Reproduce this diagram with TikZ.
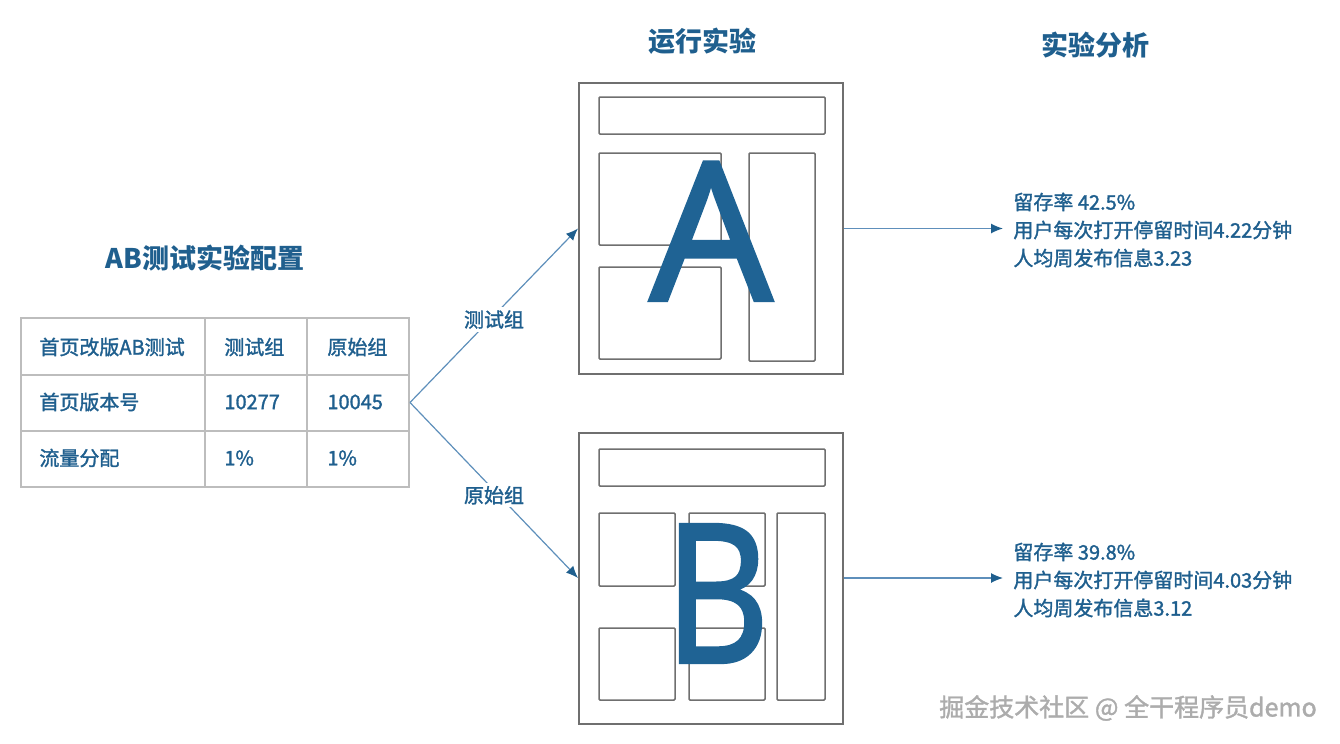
\documentclass[tikz,border=0pt]{standalone}
\usepackage{fontspec}
\setmainfont{Noto Sans CJK SC}[UprightFeatures={FakeBold=1.5}]
\newfontfamily\letterfont{Open Sans}[FakeBold=2.2]
\usetikzlibrary{arrows.meta}
\definecolor{textblue}{HTML}{1F5F8E}
\definecolor{letterblue}{HTML}{1F6394}
\definecolor{lineblue}{HTML}{5E8FBB}
\definecolor{framegray}{HTML}{6F6F6F}
\definecolor{gridgray}{HTML}{BDBDBD}

\begin{document}
\begin{tikzpicture}[x=0.5pt, y=-0.5pt,
  every node/.style={font=\fontsize{10}{14}\selectfont, text=textblue},
  heading/.style={font=\fontsize{13.5}{16}\selectfont\bfseries},
  cell/.style={anchor=west, inner sep=0pt},
  grid/.style={gridgray, line width=1pt},
  page/.style={draw=framegray, line width=1pt, minimum width=132pt, minimum height=145.5pt, inner sep=0pt},
  panel/.style={draw=framegray, line width=0.75pt, rounded corners=0.5pt},
  bigletter/.style={font=\letterfont\fontsize{96}{96}\selectfont, text=letterblue, anchor=base, inner sep=0pt},
  flow/.style={lineblue, line width=0.6pt, -{Latex[length=6pt, width=5pt, color=textblue]}},
  grouplabel/.style={fill=white, inner sep=1.5pt},
  result/.style={anchor=west, align=left, inner xsep=5pt, inner ysep=0pt}]
	\useasboundingbox (0,0) rectangle (1340,744);
	\node[heading] (cfgtitle) at (205,258) {AB测试实验配置};
	\node[heading] (runtitle) at (702,41) {运行实验};
	\node[heading] (anatitle) at (1095,45) {实验分析};

	\node[draw=gridgray, line width=1pt, minimum width=194pt, minimum height=84.5pt, inner sep=0pt] (cfg) at (215,402.5) {};
	\draw[grid] (205,318) -- (205,487);
	\draw[grid] (307,318) -- (307,487);
	\draw[grid] (21,375) -- (409,375);
	\draw[grid] (21,431) -- (409,431);
	\node[cell] (name) at (39,347) {首页改版AB测试};
	\node[cell] (testhead) at (224,347) {测试组};
	\node[cell] (basehead) at (327,347) {原始组};
	\node[cell] (verlabel) at (39,402) {首页版本号};
	\node[cell] (testver) at (224,402) {10277};
	\node[cell] (basever) at (327,402) {10045};
	\node[cell] (traffic) at (39,458) {流量分配};
	\node[cell] (testtraffic) at (224,458) {1\%};
	\node[cell] (basetraffic) at (327,458) {1\%};

	\node[page] (pageA) at (711,228.5) {};
	\draw[panel] (599,97) rectangle (825,134);
	\draw[panel] (599,153) rectangle (721,245);
	\draw[panel] (599,267) rectangle (721,359);
	\draw[panel] (749,153) rectangle (815,361);
	\node[bigletter] (letterA) at (711,300) {A};

	\node[page] (pageB) at (711,578) {};
	\draw[panel] (599,449) rectangle (825,486);
	\draw[panel] (599,513) rectangle (675,586);
	\draw[panel] (689,513) rectangle (765,586);
	\draw[panel] (599,628) rectangle (675,700);
	\draw[panel] (689,628) rectangle (765,700);
	\draw[panel] (777,513) rectangle (825,700);
	\begin{scope}[shift={(717,662)}, xscale=0.84]
		\node[bigletter, transform shape] (letterB) at (0,0) {B};
	\end{scope}

	\draw[flow] (cfg.east) -- node[grouplabel, yshift=-2pt] (testlabel) {测试组} (pageA.west);
	\draw[flow] (cfg.east) -- node[grouplabel, yshift=-2.5pt] (baselabel) {原始组} (pageB.west);

	\node[result] (resA) at (1003,230) {留存率 42.5\%\\用户每次打开停留时间4.22分钟\\人均周发布信息3.23};
	\node[result] (resB) at (1003,580) {留存率 39.8\%\\用户每次打开停留时间4.03分钟\\人均周发布信息3.12};
	\draw[flow] (pageA.east) -- (pageA.east -| resA.west);
	\draw[flow] (pageB.east) -- (pageB.east -| resB.west);

	\node[font=\fontsize{12.5}{14}\selectfont, text=gray!65] (mark) at (1128,708) {掘金技术社区 @ 全干程序员demo};
\end{tikzpicture}
\end{document}
